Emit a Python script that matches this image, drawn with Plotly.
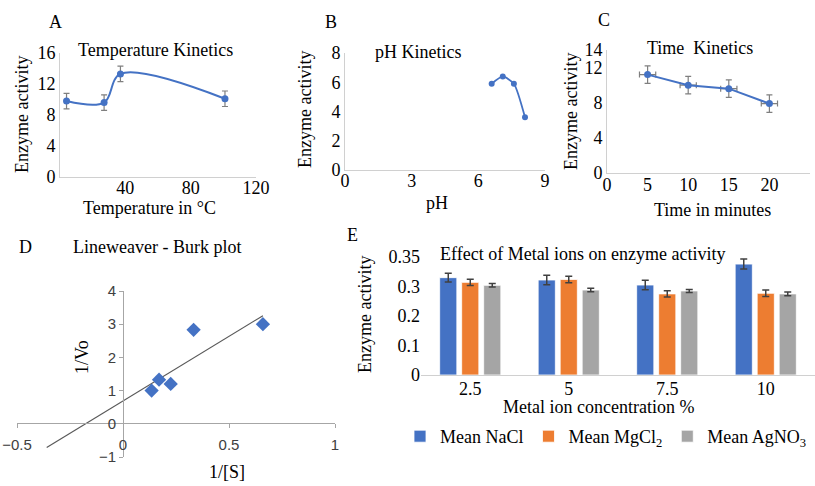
import plotly.graph_objects as go
import numpy as np

# ---------------- data ----------------
temp_c = [4, 27, 37, 101]
temp_activity = [9.8, 9.6, 13.3, 10.1]
temp_err = [1.0, 1.0, 1.0, 1.0]

ph_values = [6.6, 7.1, 7.6, 8.1]
ph_activity = [5.9, 6.4, 5.9, 3.6]

time_min = [5, 10, 15, 20]
time_activity = [11.2, 10.0, 9.6, 7.9]
time_err_y = [1.0, 1.0, 1.0, 1.0]
time_err_x = [1.0, 1.0, 1.0, 1.0]

lb_inv_s = [0.135, 0.17, 0.225, 0.333, 0.66]
lb_inv_v = [1.0, 1.33, 1.2, 2.83, 3.0]
lb_trend_start = -0.36

metal_conc = ["2.5", "5", "7.5", "10"]
nacl = [0.330, 0.322, 0.305, 0.376]
mgcl2 = [0.314, 0.324, 0.275, 0.277]
agno3 = [0.304, 0.288, 0.285, 0.275]
nacl_err = [0.015, 0.016, 0.016, 0.017]
mgcl2_err = [0.011, 0.011, 0.011, 0.011]
agno3_err = [0.006, 0.006, 0.005, 0.006]

a_yticks = [0, 4, 8, 12, 16]
a_xticks = [40, 80, 120]
b_yticks = [0, 2, 4, 6, 8]
b_xticks = [0, 3, 6, 9]
c_yticks = [0, 4, 8, 12, 14]
c_xticks = [0, 5, 10, 15, 20, 25]
d_xticks = [-0.5, 0, 0.5, 1]
d_yticks = [-1, 0, 1, 2, 3, 4]
e_tickvals = [0, 0.1, 0.2, 0.3, 0.4]
e_ticktext = ["0", "0.1", "0.2", "0.3", "0.35"]

# ---------------- layout helpers ----------------
W, H = 815, 486
def fx(p):
    return p / W
def fy(p):
    return 1 - p / H

SERIF = "Liberation Serif"
SANS = "Liberation Sans"
BLUE = "#4472C4"
ORANGE = "#ED7D31"
GRAY = "#A5A5A5"
AXC = "#d0d0d0"

fig = go.Figure()

# A: temperature
fig.add_trace(go.Scatter(
    x=temp_c, y=temp_activity, mode="lines+markers",
    line=dict(color=BLUE, width=2, shape="spline"),
    marker=dict(color=BLUE, size=7),
    error_y=dict(type="data", array=temp_err, color="#7f7f7f", thickness=1.2, width=3),
    xaxis="x", yaxis="y", showlegend=False))

# B: pH
fig.add_trace(go.Scatter(
    x=ph_values, y=ph_activity, mode="lines+markers",
    line=dict(color=BLUE, width=1.8, shape="spline", smoothing=0.6),
    marker=dict(color=BLUE, size=6),
    xaxis="x2", yaxis="y2", showlegend=False))

# C: time
fig.add_trace(go.Scatter(
    x=time_min, y=time_activity, mode="lines+markers",
    line=dict(color=BLUE, width=2),
    marker=dict(color=BLUE, size=7),
    error_y=dict(type="data", array=time_err_y, color="#7f7f7f", thickness=1.2, width=3),
    error_x=dict(type="data", array=time_err_x, color="#7f7f7f", thickness=1.2, width=3),
    xaxis="x3", yaxis="y3", showlegend=False))

# D: Lineweaver-Burk
slope, intercept = np.polyfit(lb_inv_s, lb_inv_v, 1)
trend_x = np.array([lb_trend_start, max(lb_inv_s)])
fig.add_trace(go.Scatter(
    x=trend_x, y=slope * trend_x + intercept, mode="lines",
    line=dict(color="#595959", width=1.2),
    xaxis="x4", yaxis="y4", showlegend=False))
fig.add_trace(go.Scatter(
    x=lb_inv_s, y=lb_inv_v, mode="markers",
    marker=dict(color=BLUE, size=11, symbol="diamond"),
    xaxis="x4", yaxis="y4", showlegend=False))

# E: metal ions
for name, vals, errs, col in [
    ("Mean NaCl", nacl, nacl_err, BLUE),
    ("Mean MgCl<sub>2</sub>", mgcl2, mgcl2_err, ORANGE),
    ("Mean AgNO<sub>3</sub>", agno3, agno3_err, GRAY),
]:
    fig.add_trace(go.Bar(
        x=metal_conc, y=vals, name=name,
        marker=dict(color=col, line=dict(color="white", width=0.8)),
        error_y=dict(type="data", array=errs, color="#404040", thickness=1.5, width=3.5),
        xaxis="x5", yaxis="y5"))

tickfont = dict(family=SERIF, size=18, color="black")
common_ax = dict(showgrid=False, zeroline=False, showline=True, linecolor=AXC,
                 linewidth=1, ticks="", tickfont=tickfont, fixedrange=True)

fig.update_layout(
    width=W, height=H,
    margin=dict(l=0, r=0, t=0, b=0, pad=0, autoexpand=False),
    paper_bgcolor="white", plot_bgcolor="white",
    barmode="group", bargap=0.33, bargroupgap=0.22,
    font=dict(family=SERIF, size=18, color="black"),
    xaxis=dict(common_ax, domain=[fx(60), fx(256)], range=[0, 120],
               tickvals=a_xticks, anchor="y", ticklabelstandoff=-6),
    yaxis=dict(common_ax, domain=[fy(177), fy(53)], range=[0, 16],
               tickvals=a_yticks, anchor="x"),
    xaxis2=dict(common_ax, domain=[fx(345), fx(545)], range=[0, 9],
                tickvals=b_xticks, anchor="y2", ticklabelstandoff=-6),
    yaxis2=dict(common_ax, domain=[fy(170), fy(53)], range=[0, 8],
                tickvals=b_yticks, anchor="x2"),
    xaxis3=dict(common_ax, domain=[fx(607), fx(810)], range=[0, 25],
                tickvals=c_xticks, anchor="y3", ticklabelstandoff=-5),
    yaxis3=dict(common_ax, domain=[fy(173), fy(50)], range=[0, 14],
                tickvals=c_yticks, anchor="x3"),
    xaxis4=dict(showgrid=False, zeroline=False, showline=True, linecolor="#a6a6a6",
                domain=[fx(17), fx(335)], range=[-0.5, 1], tickvals=d_xticks,
                anchor="free", position=fy(423), ticks="outside", ticklen=4,
                tickcolor="#a6a6a6", ticklabelstandoff=4,
                tickfont=dict(family=SANS, size=15, color="#404040")),
    yaxis4=dict(showgrid=False, zeroline=False, showline=True, linecolor="#a6a6a6",
                domain=[fy(457), fy(291)], range=[-1, 4], tickvals=d_yticks,
                anchor="free", position=fx(123), ticks="outside", ticklen=4,
                tickcolor="#a6a6a6",
                tickfont=dict(family=SANS, size=15, color="#404040")),
    xaxis5=dict(common_ax, domain=[fx(421), 1.0], anchor="y5", type="category",
                ticklabelstandoff=-3),
    yaxis5=dict(showgrid=False, zeroline=False, showline=False, ticks="",
                domain=[fy(375), fy(257)], range=[0, 0.4],
                tickvals=e_tickvals, ticktext=e_ticktext,
                tickfont=tickfont, anchor="x5"),
    legend=dict(orientation="h", x=fx(812), y=fy(418), xanchor="right", yanchor="top",
                font=dict(family=SERIF, size=18, color="black"),
                itemwidth=30, bgcolor="rgba(0,0,0,0)", tracegroupgap=0),
)

def text(s, x, y, size=18, angle=0, family=SERIF, color="black"):
    fig.add_annotation(text=s, x=fx(x), y=fy(y), xref="paper", yref="paper",
                       showarrow=False, textangle=angle,
                       font=dict(family=family, size=size, color=color),
                       xanchor="center", yanchor="middle")

# Panel A texts
text("A", 55, 22)
text("Temperature Kinetics", 155, 50)
text("Enzyme activity", 22, 115, angle=-90)
text("Temperature in °C", 149, 208)
# Panel B texts
text("B", 331, 22)
text("pH Kinetics", 418, 52)
text("Enzyme activity", 305, 110, angle=-90)
text("pH", 437, 203)
# Panel C texts
text("C", 604, 20)
text("Time  Kinetics", 700, 48)
text("Enzyme activity", 571, 112, angle=-90)
text("Time in minutes", 712, 210)
# Panel D texts
text("D", 25, 247)
text("Lineweaver - Burk plot", 157, 247)
text("1/Vo", 82, 357, angle=-90)
text("1/[S]", 227, 472)
# Panel E texts
text("E", 352, 235)
text("Effect of Metal ions on enzyme activity", 583, 254)
text("Enzyme activity", 365, 315, angle=-90)
text("Metal ion concentration %", 598, 407)

fig.write_html("out.html", config={"displayModeBar": False},
               post_script="document.body.style.margin='0';document.body.style.padding='0';")
